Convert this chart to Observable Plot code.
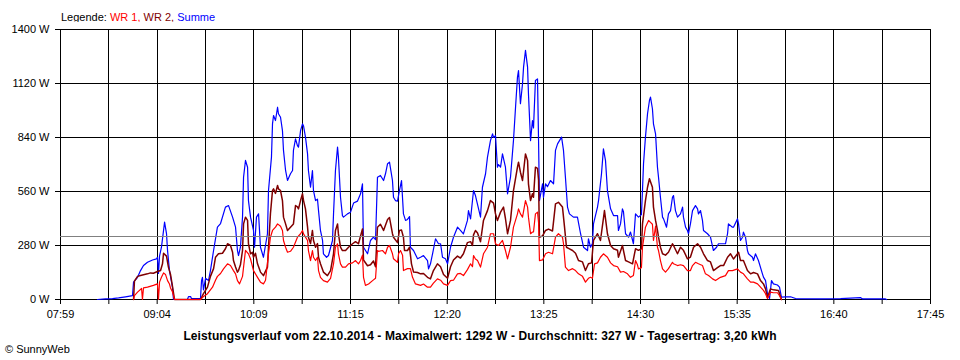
<!DOCTYPE html>
<html><head><meta charset="utf-8">
<script src="https://cdn.jsdelivr.net/npm/d3@7"></script>
<script src="https://cdn.jsdelivr.net/npm/@observablehq/plot@0.6"></script>
<style>
body{margin:0;background:#fff;font-family:"Liberation Sans",Arial,sans-serif;color:#000}
#wrap{position:relative;width:960px;height:360px;overflow:hidden;background:#fff}
#legend{position:absolute;left:61px;top:10px;font-size:11px;line-height:14px;white-space:nowrap}
#chart{position:absolute;left:0;top:22px}
#caption{position:absolute;left:0;width:960px;top:329px;text-align:center;font-weight:bold;font-size:12px;letter-spacing:0.1px;line-height:14px;white-space:nowrap}
#credit{position:absolute;left:5px;top:342px;font-size:11px;line-height:14px}
</style></head>
<body><div id="wrap">
<div id="legend"></div>
<div id="chart"></div>
<div id="caption"></div>
<div id="credit"></div>
</div>
<script>
// ---- texts ----
const legendLabel = "Legende:";
const seriesNames = ["WR 1", "WR 2", "Summe"];
const seriesColors = ["#ff0000", "#800000", "#0000ff"];
const captionText = "Leistungsverlauf vom 22.10.2014 - Maximalwert: 1292 W - Durchschnitt: 327 W - Tagesertrag: 3,20 kWh";
const creditText = "© SunnyWeb";

// ---- axes ----
const xStart = 479;   // 07:59 in minutes after midnight
const xEnd = 1065;    // 17:45
const xTickLabels = ["07:59", "09:04", "10:09", "11:15", "12:20", "13:25", "14:30", "15:35", "16:40", "17:45"];
const yTicks = [0, 280, 560, 840, 1120, 1400];
const avgW = 327;

// ---- data: time (minutes after midnight) and power (W) ----
const summeTime = [503.9,509.3,514.0,518.1,522.8,527.5,528.2,530.9,532.9,534.9,537.6,541.0,543.7,544.3,545.0,545.7,547.0,549.1,550.4,551.1,552.4,554.4,555.1,564.5,565.2,566.6,567.2,573.3,574.0,574.6,575.3,576.7,578.7,580.0,582.1,584.7,586.8,590.1,592.2,594.9,596.9,598.2,598.9,600.2,601.6,602.3,603.6,605.0,605.6,607.0,609.0,609.7,611.0,612.4,613.7,615.7,618.4,619.1,621.1,621.8,622.5,623.8,625.2,625.8,627.2,628.5,629.2,630.6,631.9,633.9,635.3,635.9,637.3,638.6,639.3,640.7,642.0,642.7,644.0,645.4,646.0,647.4,648.7,649.4,650.8,652.1,652.8,654.1,655.5,656.1,658.2,659.5,662.2,662.9,664.2,665.6,666.2,667.6,668.9,669.6,672.3,674.3,676.4,679.0,681.1,682.4,683.1,685.8,687.8,689.8,691.2,692.5,694.5,696.6,697.9,699.3,700.6,702.6,703.3,704.6,706.0,707.3,708.7,710.0,711.4,712.7,714.1,714.7,716.8,719.5,721.5,723.5,726.2,726.9,728.2,729.6,731.6,733.6,735.0,736.3,738.3,739.7,741.7,743.7,746.4,748.4,750.4,753.1,753.8,755.2,757.2,758.5,760.6,761.9,763.2,765.3,766.6,768.6,770.0,770.7,772.0,773.3,774.0,775.4,776.7,778.7,780.1,782.1,784.1,785.5,786.8,787.5,788.8,790.2,790.9,792.2,793.6,794.2,795.6,796.9,797.6,798.9,800.3,801.0,801.6,803.7,804.3,805.7,807.0,809.0,811.1,812.4,813.8,815.1,816.5,817.8,819.1,820.5,821.8,824.5,827.2,829.3,831.3,834.0,834.6,836.0,837.3,838.0,840.7,841.4,843.4,844.7,846.1,847.4,849.5,851.5,854.2,854.8,856.2,857.5,858.2,859.6,861.6,862.9,864.9,866.3,868.3,870.3,871.0,871.7,873.0,874.4,875.7,876.4,877.7,878.4,879.8,881.1,881.8,883.1,884.5,885.2,887.2,888.5,889.9,891.2,891.9,893.2,894.6,896.6,898.0,898.6,900.0,901.3,902.0,903.3,904.7,905.4,906.7,908.1,908.7,910.1,911.4,912.1,914.8,916.8,918.8,920.9,922.2,924.9,926.9,928.3,928.9,931.6,932.3,935.0,935.7,937.0,938.4,939.0,940.4,941.7,942.4,945.1,945.8,947.1,949.1,951.8,952.5,953.9,955.2,956.6,957.9,959.2,961.9,963.3,964.6,967.3,970.7,974.1,990.9,1004.4,1017.8,1019.2,1034.7,1035.4];
const summeW = [0,3,5,8,14,20,90,115,150,176,193,205,211,219,135,225,271,401,342,254,150,64,0,0,15,15,5,5,98,115,50,110,98,150,254,375,394,479,487,427,375,254,228,271,427,634,721,686,513,427,358,271,427,444,271,219,341,565,738,911,954,928,997,963,945,876,773,669,617,652,669,773,833,798,790,876,911,900,842,755,669,582,669,565,513,520,461,358,306,237,219,228,306,444,669,790,738,530,435,427,444,452,500,510,548,600,271,237,306,323,310,634,643,617,652,704,712,617,530,513,510,565,617,444,410,415,430,271,254,211,219,228,202,159,185,237,315,289,289,219,211,185,271,323,375,358,340,410,461,418,565,539,470,427,582,652,738,824,859,840,850,686,700,686,755,686,548,634,824,997,1153,1187,1015,1119,1205,1292,1205,1067,824,928,890,1136,1144,824,513,600,530,600,585,617,600,773,807,824,842,773,634,479,444,427,427,341,271,254,315,271,290,392,479,513,652,781,720,565,470,435,435,358,392,470,455,341,323,350,289,444,427,440,565,704,842,963,1032,1049,989,911,859,686,634,530,427,418,375,444,461,530,539,461,427,444,479,427,375,358,341,392,461,470,487,470,444,461,410,358,341,323,254,271,289,289,289,341,392,375,375,418,392,306,323,349,323,254,237,219,202,237,202,133,116,98,30,5,98,81,75,64,12,14,14,5,3,5,10,3,3,0];

const wr1Time = [528.2,528.8,530.9,533.6,534.2,534.9,537.6,541.6,544.3,545.0,545.7,547.0,548.4,549.7,551.1,552.4,553.1,554.4,555.8,573.3,575.3,578.0,581.4,583.4,584.7,586.8,588.8,591.5,593.5,595.5,596.9,598.2,599.6,601.6,603.6,605.6,607.0,609.0,611.7,613.7,615.7,617.1,619.1,620.4,621.8,623.8,625.2,627.2,628.5,629.2,630.6,631.9,633.9,635.9,638.6,640.7,642.0,642.7,645.4,646.0,647.4,648.7,649.4,650.8,652.1,652.8,654.1,656.1,658.8,660.9,662.9,664.2,665.6,666.2,667.6,668.9,671.0,673.0,675.7,677.7,679.7,681.1,682.4,683.1,684.4,686.5,689.2,691.2,692.5,693.2,695.9,697.9,699.3,700.6,702.6,703.3,706.0,706.7,708.0,709.4,710.0,712.7,714.7,716.1,718.1,721.5,723.5,726.2,728.2,730.2,732.9,735.0,737.0,739.7,741.7,743.7,746.4,748.4,750.4,753.1,755.2,756.5,757.2,758.5,759.9,761.9,763.9,766.6,768.6,770.7,772.0,774.0,776.7,778.7,780.1,782.1,784.1,786.8,787.5,788.8,790.2,792.2,793.6,794.2,795.6,796.9,797.6,798.9,800.3,801.0,801.6,803.7,805.7,807.7,810.4,812.4,814.4,817.1,817.8,819.1,821.2,823.9,825.9,827.9,830.6,832.6,834.6,836.0,837.3,838.7,840.7,842.7,844.7,847.4,849.5,851.5,854.2,856.2,858.2,860.9,862.9,864.9,866.3,867.6,868.3,870.3,871.0,873.0,875.1,876.4,877.7,878.4,879.8,881.1,881.8,883.1,884.5,886.5,888.5,891.2,891.9,894.6,896.6,898.6,901.3,903.3,904.7,906.7,908.7,911.4,913.4,915.5,918.2,920.2,923.5,926.9,928.9,931.6,935.0,937.0,939.0,941.7,943.8,945.8,948.5,950.5,952.5,953.9,955.2,957.2,959.2,961.9,963.3,964.6];
const wr1W = [0,20,38,57,0,60,64,73,81,0,90,115,138,130,98,80,60,40,0,0,15,30,64,100,120,135,159,185,176,150,133,98,81,120,255,237,210,150,115,90,81,100,237,323,358,375,392,380,358,306,271,245,250,271,323,341,358,340,306,254,202,254,219,202,219,150,115,98,90,110,185,271,289,237,185,168,168,185,190,202,185,202,230,115,73,80,98,110,254,250,254,237,271,280,237,211,193,237,254,230,150,160,160,115,81,73,80,64,64,85,107,100,81,73,98,100,133,135,124,155,185,170,228,210,202,168,237,271,341,341,289,280,306,254,211,271,375,444,470,444,427,513,479,427,341,350,350,444,453,400,202,205,237,245,237,323,341,323,289,168,150,160,150,133,120,90,110,115,110,185,190,219,237,219,190,176,170,142,145,133,115,125,202,180,159,165,271,375,410,400,390,306,380,271,254,202,159,142,160,193,185,176,180,176,150,150,176,193,185,176,133,124,107,98,115,124,150,150,159,142,133,107,90,90,81,64,47,30,5,38,35,35,20,0];

const wr2Time = [528.2,528.8,530.9,532.9,534.9,537.6,539.6,541.6,544.3,546.4,547.7,548.4,550.4,551.7,553.1,554.4,555.8,573.3,575.3,578.0,580.0,582.1,583.4,585.4,588.1,590.1,591.5,593.5,594.9,595.5,596.9,598.2,598.9,600.2,601.6,602.3,603.6,605.0,605.6,607.0,608.3,609.0,610.3,611.7,613.7,615.7,618.4,619.1,620.4,621.8,622.5,623.8,625.2,625.8,627.2,628.5,629.2,630.6,631.9,633.9,635.9,637.3,638.6,639.3,640.7,642.0,642.7,644.0,645.4,646.0,647.4,648.7,649.4,650.8,652.1,652.8,654.1,656.1,658.8,660.9,662.9,664.2,665.6,666.2,667.6,668.9,671.0,673.0,675.7,677.7,679.7,682.4,683.1,685.8,687.8,689.8,691.2,692.5,694.5,696.6,699.3,700.6,702.6,703.3,706.0,707.3,708.7,710.0,710.7,712.7,714.1,715.4,716.8,719.5,721.5,723.5,726.2,728.2,730.2,732.9,735.0,737.0,739.7,741.7,743.7,746.4,748.4,750.4,753.1,755.2,756.5,757.2,758.5,759.9,761.9,763.9,766.6,768.6,770.7,772.0,773.3,775.4,777.4,778.7,780.1,782.1,784.1,786.8,787.5,788.8,790.2,792.2,793.6,794.2,795.6,796.9,797.6,798.9,800.3,801.0,801.6,803.7,805.7,807.7,810.4,812.4,814.4,817.1,818.5,819.8,821.2,823.9,825.9,827.9,830.6,832.6,834.6,836.7,838.0,840.7,842.7,845.4,847.4,849.5,851.5,854.2,854.8,857.5,859.6,861.6,864.3,866.3,868.3,870.3,871.0,873.0,874.4,875.7,877.7,878.4,879.8,881.1,881.8,883.1,884.5,886.5,888.5,891.2,891.9,894.6,896.6,898.6,901.3,903.3,905.4,908.1,910.1,912.1,914.8,916.8,918.8,921.5,923.5,925.6,928.3,930.3,932.3,935.0,935.7,937.0,939.0,941.7,943.8,945.8,948.5,950.5,952.5,953.9,955.2,957.2,959.2,962.6,964.6];
const wr2W = [0,95,120,124,128,133,138,136,145,150,185,240,225,168,130,70,0,0,30,64,120,160,219,237,240,263,289,280,245,202,168,142,150,180,254,392,427,410,289,237,245,219,240,185,142,124,168,271,444,565,574,550,591,574,565,513,427,392,358,375,392,487,480,470,513,548,513,470,375,323,290,358,306,271,290,219,185,142,124,150,237,358,392,340,271,254,254,271,289,300,289,366,205,175,180,200,170,375,390,358,415,425,341,323,295,358,360,323,254,254,271,185,142,140,133,135,115,107,150,185,170,130,110,170,205,225,215,237,295,300,280,335,358,345,300,410,461,513,500,444,410,453,479,420,341,410,565,686,712,660,617,755,720,600,513,548,530,686,680,620,323,330,358,365,355,496,504,480,375,271,265,254,240,202,195,150,185,190,306,341,306,461,341,280,263,255,219,280,202,195,185,263,255,263,392,513,582,626,582,479,410,358,323,271,237,230,245,289,280,237,271,255,211,220,271,289,271,237,202,195,150,165,176,176,219,237,210,237,245,202,202,150,133,140,133,98,81,55,10,55,50,47,0];

// ---- legend & captions (HTML text) ----
const legend = document.getElementById("legend");
legend.append(legendLabel + " ");
seriesNames.forEach((n, i) => {
  const s = document.createElement("span");
  s.style.color = seriesColors[i];
  s.textContent = n + (i < seriesNames.length - 1 ? ", " : "");
  legend.append(s);
});
document.getElementById("caption").textContent = captionText;
document.getElementById("credit").textContent = creditText;

// ---- ticks ----
const nGrid = (xTickLabels.length - 1) * 2;
const xTicks = d3.range(nGrid + 1).map(i => xStart + i * (xEnd - xStart) / nGrid);
const xLabelMap = new Map();
xTicks.forEach((t, i) => { if (i % 2 === 0) xLabelMap.set(t, xTickLabels[i / 2]); });

const toRows = (ts, ws) => ts.map((t, i) => ({t, w: ws[i]}));
const summe = toRows(summeTime, summeW);
const wr1 = toRows(wr1Time, wr1W);
const wr2 = toRows(wr2Time, wr2W);

const chart = Plot.plot({
  width: 960,
  height: 305,
  marginLeft: 60,
  marginRight: 30,
  marginTop: 7,
  marginBottom: 28,
  style: {fontFamily: "'Liberation Sans', Arial, sans-serif", fontSize: "11px", color: "#000", background: "#fff", overflow: "visible"},
  x: {type: "linear", domain: [xStart, xEnd]},
  y: {domain: [0, 1400]},
  marks: [
    Plot.ruleX(xTicks, {stroke: "#000", strokeWidth: 1, shapeRendering: "crispEdges"}),
    Plot.ruleY(yTicks, {stroke: "#000", strokeWidth: 1, shapeRendering: "crispEdges"}),
    Plot.axisX(xTicks, {tickSize: 5, tickPadding: 6, tickFormat: d => xLabelMap.get(d) ?? "", stroke: "#000", fill: "#000", label: null, fontSize: 11}),
    Plot.axisY(yTicks, {tickSize: 5, tickPadding: 6, tickFormat: d => d + " W", stroke: "#000", fill: "#000", label: null, fontSize: 11}),
    Plot.line(summe, {x: "t", y: "w", stroke: seriesColors[2], strokeWidth: 1.2}),
    Plot.line(wr2, {x: "t", y: "w", stroke: seriesColors[1], strokeWidth: 1.5}),
    Plot.line(wr1, {x: "t", y: "w", stroke: seriesColors[0], strokeWidth: 1.2}),
    Plot.ruleY([avgW], {stroke: "#808080", strokeWidth: 1, shapeRendering: "crispEdges"})
  ]
});
document.getElementById("chart").append(chart);
</script>
</body></html>
